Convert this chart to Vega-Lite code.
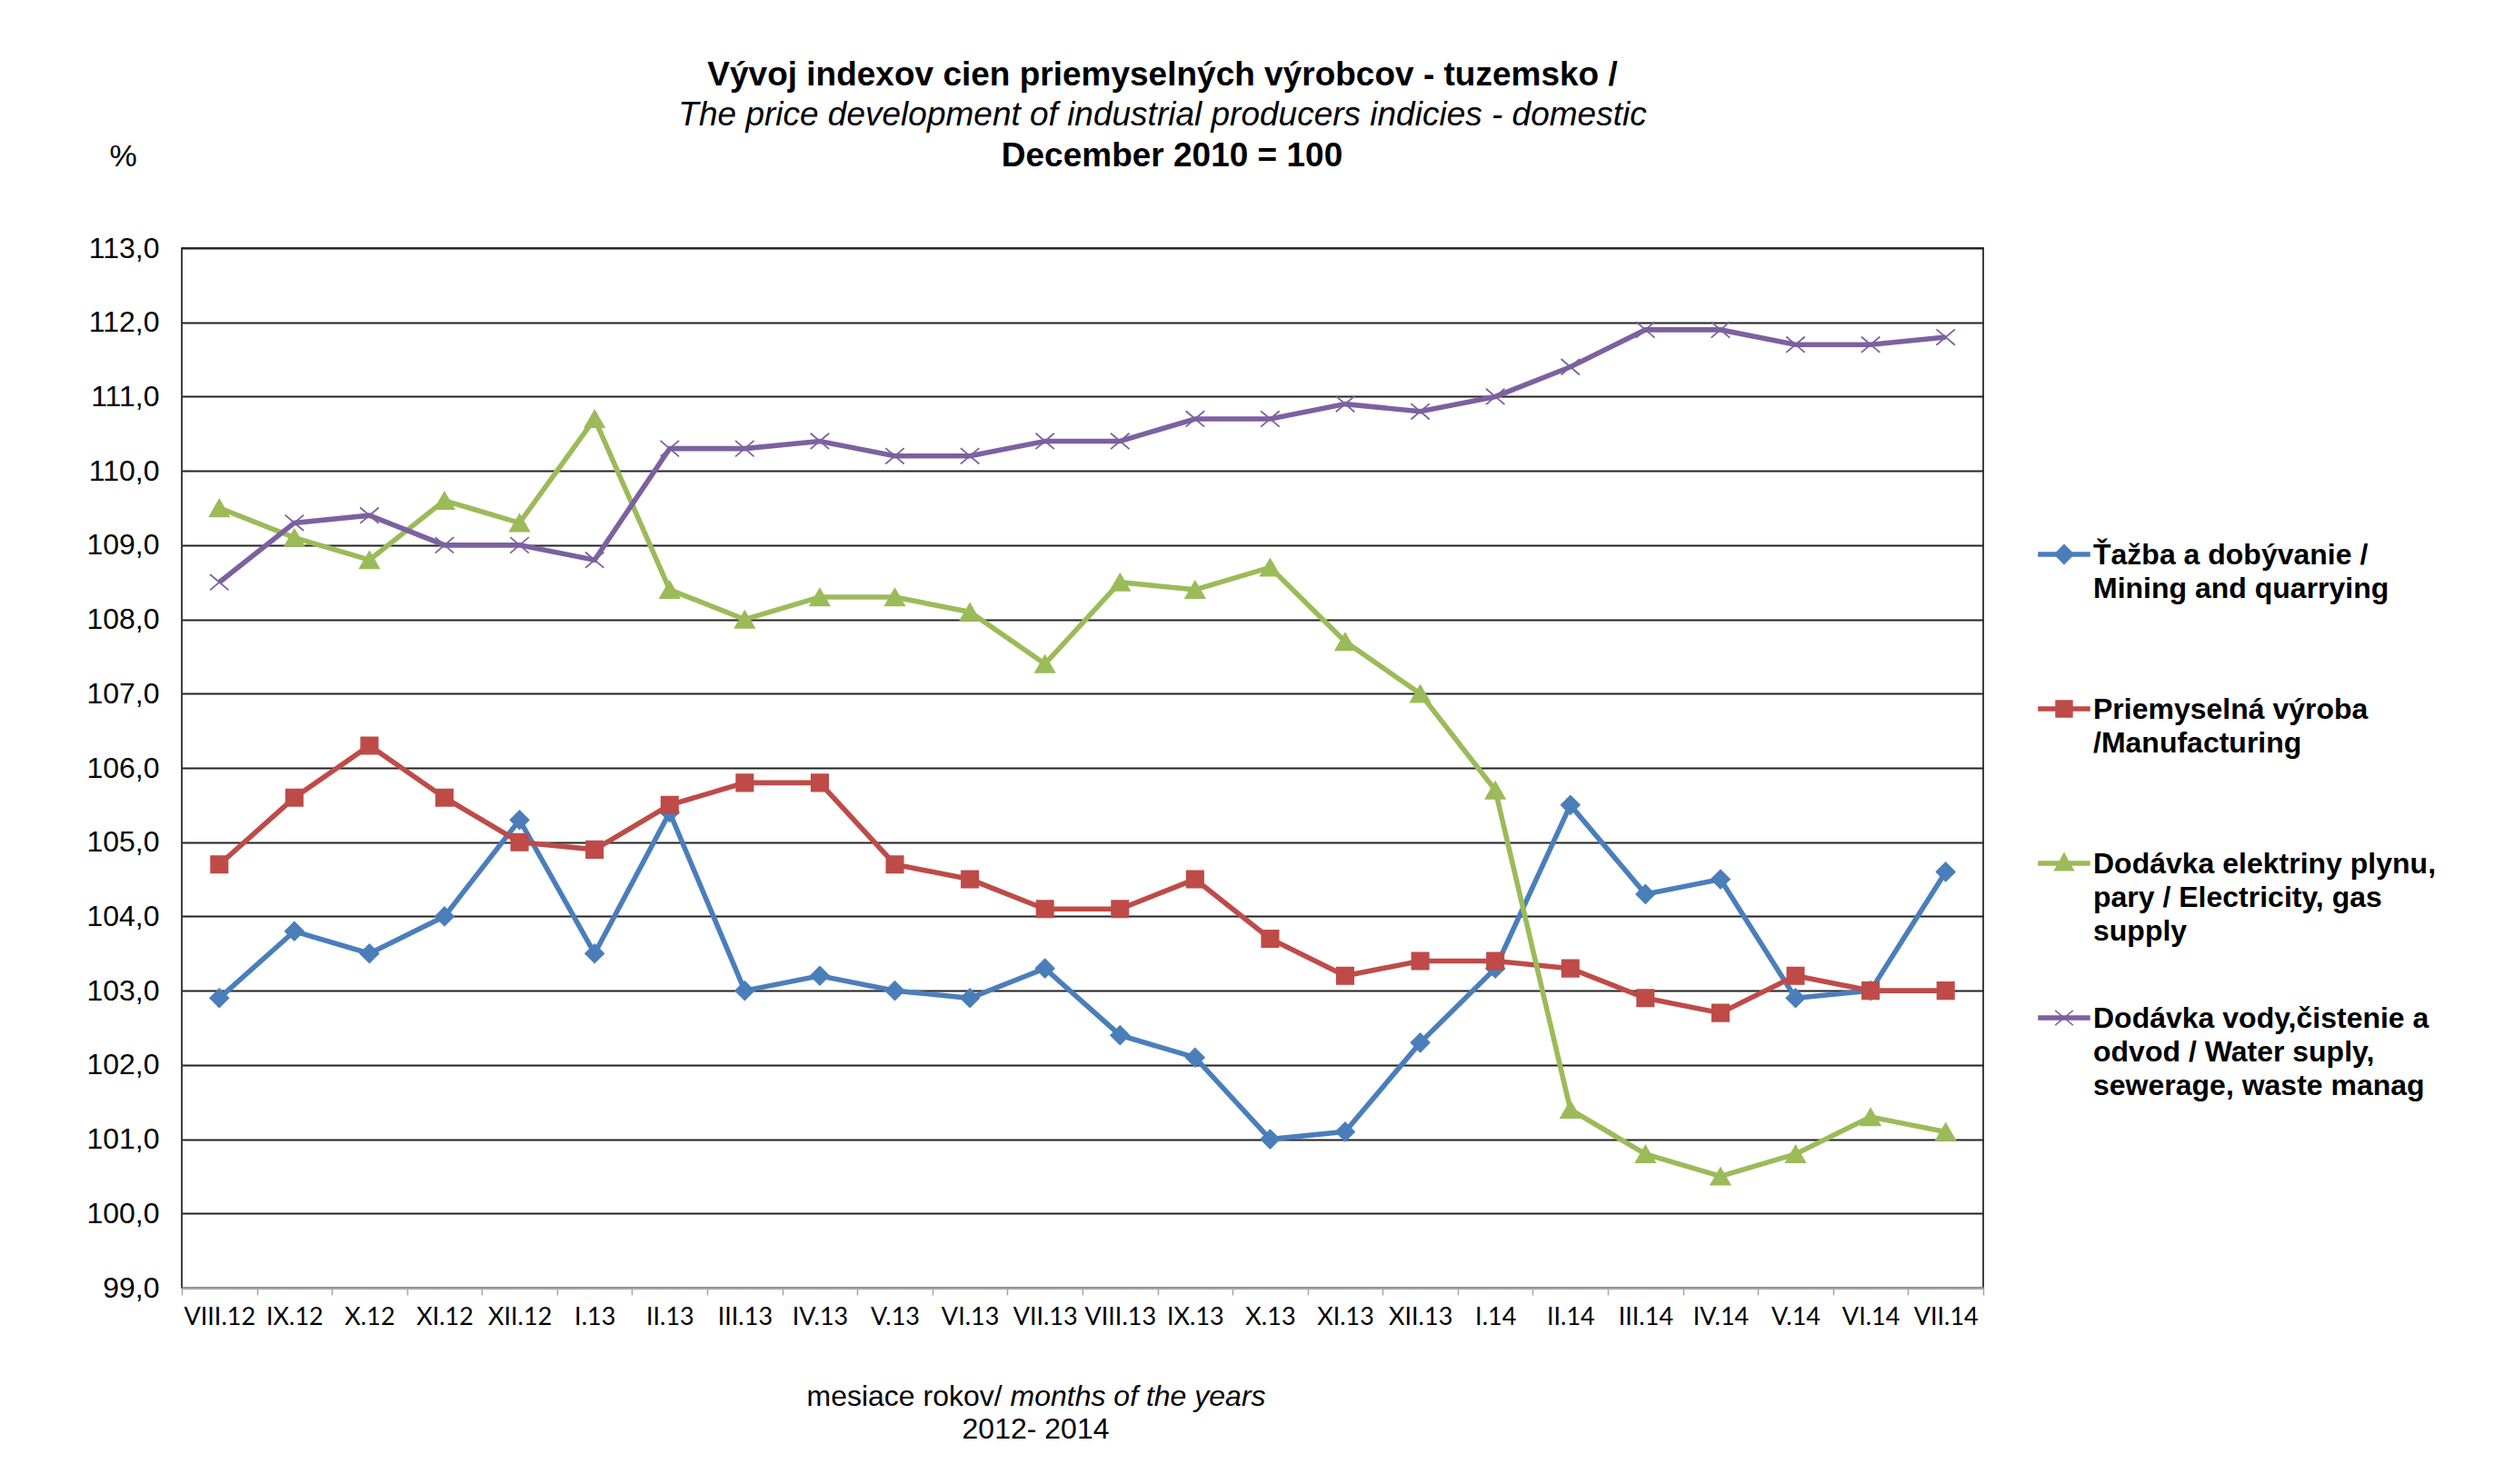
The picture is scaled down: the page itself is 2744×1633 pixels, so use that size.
{
  "$schema": "https://vega.github.io/schema/vega-lite/v6.json",
  "width": 1982,
  "height": 1144,
  "autosize": {"type": "none"},
  "padding": {"left": 200, "top": 273, "right": 562, "bottom": 216},
  "background": "white",
  "title": {
    "text": "Vývoj indexov cien priemyselných výrobcov - tuzemsko /",
    "subtitle": "The price development of industrial producers indicies - domestic",
    "font": "Liberation Sans",
    "fontSize": 37,
    "fontWeight": "bold",
    "color": "black",
    "subtitleFont": "Liberation Sans",
    "subtitleFontSize": 37,
    "subtitleFontStyle": "italic",
    "subtitleFontWeight": "normal",
    "subtitleColor": "black",
    "subtitlePadding": 7,
    "anchor": "middle",
    "frame": "group",
    "dx": 88,
    "offset": 6
  },
  "config": {
    "view": {"stroke": "black", "strokeWidth": 1.5},
    "font": "Liberation Sans"
  },
  "data": {
    "values": [
      {"month": "VIII.12", "series": "Mining", "value": 102.9},
      {"month": "IX.12", "series": "Mining", "value": 103.8},
      {"month": "X.12", "series": "Mining", "value": 103.5},
      {"month": "XI.12", "series": "Mining", "value": 104.0},
      {"month": "XII.12", "series": "Mining", "value": 105.3},
      {"month": "I.13", "series": "Mining", "value": 103.5},
      {"month": "II.13", "series": "Mining", "value": 105.4},
      {"month": "III.13", "series": "Mining", "value": 103.0},
      {"month": "IV.13", "series": "Mining", "value": 103.2},
      {"month": "V.13", "series": "Mining", "value": 103.0},
      {"month": "VI.13", "series": "Mining", "value": 102.9},
      {"month": "VII.13", "series": "Mining", "value": 103.3},
      {"month": "VIII.13", "series": "Mining", "value": 102.4},
      {"month": "IX.13", "series": "Mining", "value": 102.1},
      {"month": "X.13", "series": "Mining", "value": 101.0},
      {"month": "XI.13", "series": "Mining", "value": 101.1},
      {"month": "XII.13", "series": "Mining", "value": 102.3},
      {"month": "I.14", "series": "Mining", "value": 103.3},
      {"month": "II.14", "series": "Mining", "value": 105.5},
      {"month": "III.14", "series": "Mining", "value": 104.3},
      {"month": "IV.14", "series": "Mining", "value": 104.5},
      {"month": "V.14", "series": "Mining", "value": 102.9},
      {"month": "VI.14", "series": "Mining", "value": 103.0},
      {"month": "VII.14", "series": "Mining", "value": 104.6},

      {"month": "VIII.12", "series": "Manufacturing", "value": 104.7},
      {"month": "IX.12", "series": "Manufacturing", "value": 105.6},
      {"month": "X.12", "series": "Manufacturing", "value": 106.3},
      {"month": "XI.12", "series": "Manufacturing", "value": 105.6},
      {"month": "XII.12", "series": "Manufacturing", "value": 105.0},
      {"month": "I.13", "series": "Manufacturing", "value": 104.9},
      {"month": "II.13", "series": "Manufacturing", "value": 105.5},
      {"month": "III.13", "series": "Manufacturing", "value": 105.8},
      {"month": "IV.13", "series": "Manufacturing", "value": 105.8},
      {"month": "V.13", "series": "Manufacturing", "value": 104.7},
      {"month": "VI.13", "series": "Manufacturing", "value": 104.5},
      {"month": "VII.13", "series": "Manufacturing", "value": 104.1},
      {"month": "VIII.13", "series": "Manufacturing", "value": 104.1},
      {"month": "IX.13", "series": "Manufacturing", "value": 104.5},
      {"month": "X.13", "series": "Manufacturing", "value": 103.7},
      {"month": "XI.13", "series": "Manufacturing", "value": 103.2},
      {"month": "XII.13", "series": "Manufacturing", "value": 103.4},
      {"month": "I.14", "series": "Manufacturing", "value": 103.4},
      {"month": "II.14", "series": "Manufacturing", "value": 103.3},
      {"month": "III.14", "series": "Manufacturing", "value": 102.9},
      {"month": "IV.14", "series": "Manufacturing", "value": 102.7},
      {"month": "V.14", "series": "Manufacturing", "value": 103.2},
      {"month": "VI.14", "series": "Manufacturing", "value": 103.0},
      {"month": "VII.14", "series": "Manufacturing", "value": 103.0},

      {"month": "VIII.12", "series": "Electricity", "value": 109.5},
      {"month": "IX.12", "series": "Electricity", "value": 109.1},
      {"month": "X.12", "series": "Electricity", "value": 108.8},
      {"month": "XI.12", "series": "Electricity", "value": 109.6},
      {"month": "XII.12", "series": "Electricity", "value": 109.3},
      {"month": "I.13", "series": "Electricity", "value": 110.7},
      {"month": "II.13", "series": "Electricity", "value": 108.4},
      {"month": "III.13", "series": "Electricity", "value": 108.0},
      {"month": "IV.13", "series": "Electricity", "value": 108.3},
      {"month": "V.13", "series": "Electricity", "value": 108.3},
      {"month": "VI.13", "series": "Electricity", "value": 108.1},
      {"month": "VII.13", "series": "Electricity", "value": 107.4},
      {"month": "VIII.13", "series": "Electricity", "value": 108.5},
      {"month": "IX.13", "series": "Electricity", "value": 108.4},
      {"month": "X.13", "series": "Electricity", "value": 108.7},
      {"month": "XI.13", "series": "Electricity", "value": 107.7},
      {"month": "XII.13", "series": "Electricity", "value": 107.0},
      {"month": "I.14", "series": "Electricity", "value": 105.7},
      {"month": "II.14", "series": "Electricity", "value": 101.4},
      {"month": "III.14", "series": "Electricity", "value": 100.8},
      {"month": "IV.14", "series": "Electricity", "value": 100.5},
      {"month": "V.14", "series": "Electricity", "value": 100.8},
      {"month": "VI.14", "series": "Electricity", "value": 101.3},
      {"month": "VII.14", "series": "Electricity", "value": 101.1},

      {"month": "VIII.12", "series": "Water", "value": 108.5},
      {"month": "IX.12", "series": "Water", "value": 109.3},
      {"month": "X.12", "series": "Water", "value": 109.4},
      {"month": "XI.12", "series": "Water", "value": 109.0},
      {"month": "XII.12", "series": "Water", "value": 109.0},
      {"month": "I.13", "series": "Water", "value": 108.8},
      {"month": "II.13", "series": "Water", "value": 110.3},
      {"month": "III.13", "series": "Water", "value": 110.3},
      {"month": "IV.13", "series": "Water", "value": 110.4},
      {"month": "V.13", "series": "Water", "value": 110.2},
      {"month": "VI.13", "series": "Water", "value": 110.2},
      {"month": "VII.13", "series": "Water", "value": 110.4},
      {"month": "VIII.13", "series": "Water", "value": 110.4},
      {"month": "IX.13", "series": "Water", "value": 110.7},
      {"month": "X.13", "series": "Water", "value": 110.7},
      {"month": "XI.13", "series": "Water", "value": 110.9},
      {"month": "XII.13", "series": "Water", "value": 110.8},
      {"month": "I.14", "series": "Water", "value": 111.0},
      {"month": "II.14", "series": "Water", "value": 111.4},
      {"month": "III.14", "series": "Water", "value": 111.9},
      {"month": "IV.14", "series": "Water", "value": 111.9},
      {"month": "V.14", "series": "Water", "value": 111.7},
      {"month": "VI.14", "series": "Water", "value": 111.7},
      {"month": "VII.14", "series": "Water", "value": 111.8}
    ]
  },
  "encoding": {
    "y": {
      "field": "value",
      "type": "quantitative",
      "scale": {"domain": [99, 113], "zero": false, "nice": false},
      "axis": {
        "title": "%",
        "titleAngle": 0,
        "titleX": -65,
        "titleY": -91,
        "titleAlign": "center",
        "titleBaseline": "alphabetic",
        "titleFont": "Liberation Sans",
        "titleFontSize": 34,
        "titleFontWeight": "normal",
        "titleColor": "black",
        "values": [99, 100, 101, 102, 103, 104, 105, 106, 107, 108, 109, 110, 111, 112, 113],
        "labelExpr": "replace(format(datum.value, '.1f'), '.', ',')",
        "labelFont": "Liberation Sans",
        "labelFontSize": 32,
        "labelColor": "black",
        "labelPadding": 25,
        "ticks": false,
        "domain": false,
        "grid": true,
        "gridColor": "#222222",
        "gridWidth": 1.8
      }
    }
  },
  "layer": [
    {
      "mark": {"type": "line", "strokeWidth": 5.6},
      "encoding": {
        "x": {
          "field": "month",
          "type": "ordinal",
          "sort": null,
          "scale": {"type": "band", "paddingInner": 0, "paddingOuter": 0},
          "axis": {
            "orient": "bottom",
            "title": "2012- 2014",
            "titleFont": "Liberation Sans",
            "titleFontSize": 32,
            "titleFontWeight": "normal",
            "titleColor": "black",
            "titleX": 939,
            "titleY": 165,
            "titleAlign": "center",
            "titleBaseline": "alphabetic",
            "labelAngle": 0,
            "labelFont": "Lato",
            "labelFontSize": 27,
            "labelColor": "black",
            "labelPadding": 11,
            "labelOverlap": false,
            "tickBand": "extent",
            "tickColor": "#a6a6a6",
            "tickSize": 8,
            "tickWidth": 1.5,
            "domainColor": "#a6a6a6",
            "domainWidth": 2.5,
            "grid": false
          }
        },
        "color": {
          "field": "series",
          "type": "nominal",
          "scale": {
            "domain": ["Mining", "Manufacturing", "Electricity", "Water"],
            "range": ["#4A7EBB", "#BE4B48", "#9BBB59", "#7D60A0"]
          },
          "legend": {
            "orient": "none",
            "legendX": 2042,
            "legendY": 308,
            "title": null,
            "padding": 0,
            "symbolSize": 3136,
            "symbolStrokeWidth": 1.5,
            "labelFont": "Liberation Sans",
            "labelFontSize": 32,
            "labelFontWeight": "bold",
            "labelColor": "black",
            "labelLimit": 800,
            "labelOffset": 3,
            "labelBaseline": "alphabetic",
            "rowPadding": 50,
            "gridAlign": "all",
            "labelExpr": "datum.value == 'Mining' ? ['Ťažba a dobývanie /', 'Mining and quarrying'] : datum.value == 'Manufacturing' ? ['Priemyselná výroba', '/Manufacturing'] : datum.value == 'Electricity' ? ['Dodávka elektriny plynu,', 'pary / Electricity, gas', 'supply'] : ['Dodávka vody,čistenie a', 'odvod / Water suply,', 'sewerage, waste manag']",
            "encode": {
              "symbols": {
                "update": {
                  "shape": {"signal": "datum.value == 'Mining' ? 'M-1,-0.07H-0.3L0,-0.37L0.3,-0.07H1V0.07H0.3L0,0.37L-0.3,0.07H-1Z' : datum.value == 'Manufacturing' ? 'M-1,-0.07H-0.32V-0.32H0.32V-0.07H1V0.07H0.32V0.32H-0.32V0.07H-1Z' : datum.value == 'Electricity' ? 'M-1,-0.07H-0.17L0,-0.4L0.17,-0.07H1V0.07H0.25L0.37,0.28H-0.37L-0.25,0.07H-1Z' : 'M-1,-0.07H1V0.07H-1Z M-0.35,-0.29L0.35,0.29M-0.35,0.29L0.35,-0.29'"},
                  "size": {"value": 3136},
                  "fill": {"signal": "scale('color', datum.value)"},
                  "stroke": {"signal": "scale('color', datum.value)"},
                  "strokeWidth": {"value": 1.5},
                  "opacity": {"value": 1}
                }
              },
              "labels": {
                "update": {
                  "dy": {"value": 11},
                  "lineHeight": {"value": 37}
                }
              }
            }
          }
        }
      }
    },
    {
      "transform": [{"filter": "datum.series == 'Mining'"}],
      "mark": {"type": "point", "shape": "diamond", "size": 420, "filled": true, "opacity": 1, "fill": "#4A7EBB", "stroke": "#4A7EBB", "strokeWidth": 1.5},
      "encoding": {
        "x": {
          "field": "month",
          "type": "ordinal",
          "sort": null,
          "scale": {"type": "band", "paddingInner": 0, "paddingOuter": 0},
          "axis": {
            "orient": "top",
            "labels": false,
            "ticks": false,
            "domain": false,
            "grid": false,
            "title": "December 2010 = 100",
            "titleFont": "Liberation Sans",
            "titleFontSize": 37,
            "titleFontWeight": "bold",
            "titleColor": "black",
            "titleX": 1089,
            "titleY": -91,
            "titleAlign": "center",
            "titleBaseline": "alphabetic"
          }
        }
      }
    },
    {
      "transform": [{"filter": "datum.series == 'Manufacturing'"}],
      "mark": {"type": "point", "shape": "square", "size": 345, "filled": true, "opacity": 1, "fill": "#BE4B48", "stroke": "#BE4B48", "strokeWidth": 1.5},
      "encoding": {
        "x": {
          "field": "month",
          "type": "ordinal",
          "sort": null,
          "scale": {"type": "band", "paddingInner": 0, "paddingOuter": 0},
          "axis": {
            "orient": "bottom",
            "labels": false,
            "ticks": false,
            "domain": false,
            "grid": false,
            "title": "mesiace rokov/",
            "titleFont": "Liberation Sans",
            "titleFontSize": 32,
            "titleFontWeight": "normal",
            "titleFontStyle": "normal",
            "titleColor": "black",
            "titleX": 687,
            "titleY": 129,
            "titleAlign": "left",
            "titleBaseline": "alphabetic"
          }
        }
      }
    },
    {
      "transform": [{"filter": "datum.series == 'Electricity'"}],
      "mark": {"type": "point", "shape": "triangle-up", "size": 470, "filled": true, "opacity": 1, "fill": "#9BBB59", "stroke": "#9BBB59", "strokeWidth": 1.5},
      "encoding": {
        "x": {
          "field": "month",
          "type": "ordinal",
          "sort": null,
          "scale": {"type": "band", "paddingInner": 0, "paddingOuter": 0},
          "axis": {
            "orient": "bottom",
            "labels": false,
            "ticks": false,
            "domain": false,
            "grid": false,
            "title": "months of the years",
            "titleFont": "Liberation Sans",
            "titleFontSize": 32,
            "titleFontWeight": "normal",
            "titleFontStyle": "italic",
            "titleColor": "black",
            "titleX": 911,
            "titleY": 129,
            "titleAlign": "left",
            "titleBaseline": "alphabetic"
          }
        }
      }
    },
    {
      "transform": [{"filter": "datum.series == 'Water'"}],
      "mark": {"type": "point", "shape": "M-1,-0.85L1,0.85M-1,0.85L1,-0.85", "size": 420, "filled": false, "opacity": 1, "fill": "transparent", "stroke": "#7D60A0", "strokeWidth": 1.8},
      "encoding": {
        "x": {"field": "month", "type": "ordinal", "sort": null, "scale": {"type": "band", "paddingInner": 0, "paddingOuter": 0}, "axis": null}
      }
    }
  ],
  "resolve": {"axis": {"x": "independent"}}
}
